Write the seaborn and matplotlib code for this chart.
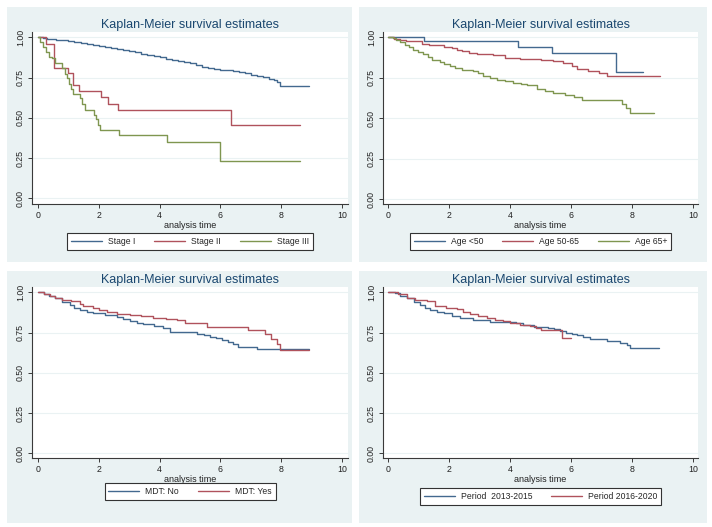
import matplotlib
matplotlib.use("Agg")
import matplotlib.pyplot as plt
import seaborn as sns
import pandas as pd
from matplotlib.patches import Rectangle

sns.set_theme(style="white")
plt.rcParams["font.family"] = ["Liberation Sans", "DejaVu Sans"]

# ---------------- data ----------------
title = "Kaplan-Meier survival estimates"
xlabel = "analysis time"
x_ticks = [0, 2, 4, 6, 8, 10]
y_ticks = [0.0, 0.25, 0.5, 0.75, 1.0]
y_tick_labels = ["0.00", "0.25", "0.50", "0.75", "1.00"]

# Panel 1: stage
stage1_t = [0, 0.15, 0.3, 0.45, 0.6, 0.8, 1.0, 1.2, 1.4, 1.6, 1.8, 2.0, 2.2, 2.4, 2.6,
            2.8, 3.0, 3.2, 3.4, 3.6, 3.8, 4.0, 4.2, 4.4, 4.6, 4.8, 5.0, 5.2, 5.4, 5.6,
            5.8, 6.0, 6.2, 6.4, 6.6, 6.8, 7.0, 7.2, 7.4, 7.6, 7.75, 7.85, 7.95, 8.9]
stage1_s = [1.0, 0.996, 0.992, 0.988, 0.984, 0.981, 0.977, 0.971, 0.965, 0.959, 0.952,
            0.945, 0.939, 0.933, 0.926, 0.92, 0.913, 0.906, 0.899, 0.891, 0.884, 0.876,
            0.868, 0.861, 0.854, 0.847, 0.84, 0.828, 0.816, 0.811, 0.806, 0.8, 0.794,
            0.789, 0.784, 0.777, 0.768, 0.762, 0.754, 0.744, 0.732, 0.72, 0.70, 0.70]
stage2_t = [0, 0.26, 0.54, 1.0, 1.16, 1.36, 2.07, 2.31, 2.62, 6.36, 8.62]
stage2_s = [1.0, 0.958, 0.812, 0.776, 0.704, 0.666, 0.627, 0.588, 0.551, 0.458, 0.458]
stage3_t = [0, 0.08, 0.16, 0.26, 0.36, 0.45, 0.55, 0.8, 0.88, 0.95, 1.02, 1.08, 1.15,
            1.38, 1.45, 1.55, 1.83, 1.9, 1.97, 2.05, 2.68, 4.23, 5.99, 8.62]
stage3_s = [1.0, 0.97, 0.94, 0.91, 0.88, 0.87, 0.84, 0.81, 0.775, 0.745, 0.71, 0.68, 0.65,
            0.62, 0.585, 0.55, 0.52, 0.49, 0.455, 0.424, 0.393, 0.352, 0.234, 0.234]

# Panel 2: age
age1_t = [0, 1.17, 4.27, 5.37, 7.48, 8.37]
age1_s = [1.0, 0.979, 0.942, 0.901, 0.787, 0.787]
age2_t = [0, 0.2, 0.39, 0.6, 0.83, 1.1, 1.35, 1.6, 1.85, 2.09, 2.25, 2.41, 2.65, 2.91,
          3.45, 3.84, 4.33, 5.0, 5.42, 5.75, 6.02, 6.19, 6.57, 6.93, 7.17, 8.92]
age2_s = [1.0, 0.992, 0.985, 0.98, 0.975, 0.958, 0.954, 0.95, 0.942, 0.934, 0.924, 0.913,
          0.905, 0.897, 0.889, 0.872, 0.866, 0.862, 0.851, 0.841, 0.82, 0.806, 0.793,
          0.779, 0.759, 0.759]
age3_t = [0, 0.15, 0.27, 0.4, 0.56, 0.7, 0.83, 1.0, 1.16, 1.3, 1.43, 1.7, 1.85, 2.03,
          2.2, 2.41, 2.79, 2.95, 3.13, 3.35, 3.57, 3.85, 4.11, 4.35, 4.55, 4.87, 5.15,
          5.42, 5.8, 6.1, 6.35, 7.66, 7.8, 7.93, 8.73]
age3_s = [1.0, 0.993, 0.985, 0.97, 0.954, 0.938, 0.923, 0.91, 0.897, 0.88, 0.862, 0.845,
          0.832, 0.82, 0.81, 0.80, 0.79, 0.777, 0.763, 0.75, 0.738, 0.728, 0.717, 0.71,
          0.703, 0.682, 0.67, 0.655, 0.641, 0.63, 0.612, 0.587, 0.563, 0.532, 0.532]

# Panel 3: MDT
mdt_no_t = [0, 0.2, 0.35, 0.56, 0.8, 1.05, 1.2, 1.38, 1.6, 1.82, 2.2, 2.59, 2.8, 3.03,
            3.25, 3.47, 3.8, 4.12, 4.34, 5.0, 5.22, 5.45, 5.66, 5.85, 6.04, 6.25, 6.42,
            6.58, 7.19, 8.9]
mdt_no_s = [1.0, 0.99, 0.98, 0.962, 0.942, 0.921, 0.905, 0.89, 0.88, 0.869, 0.858, 0.849,
            0.835, 0.822, 0.81, 0.801, 0.79, 0.78, 0.755, 0.751, 0.742, 0.733, 0.724,
            0.714, 0.704, 0.69, 0.677, 0.662, 0.648, 0.648]
mdt_yes_t = [0, 0.2, 0.4, 0.56, 0.8, 1.1, 1.38, 1.49, 1.8, 2.0, 2.26, 2.6, 3.03, 3.4,
             3.79, 4.2, 4.56, 4.84, 5.55, 6.92, 7.47, 7.68, 7.86, 7.95, 8.9]
mdt_yes_s = [1.0, 0.99, 0.978, 0.966, 0.955, 0.945, 0.93, 0.917, 0.905, 0.893, 0.88,
             0.868, 0.859, 0.85, 0.842, 0.835, 0.828, 0.807, 0.783, 0.766, 0.739, 0.71,
             0.677, 0.642, 0.642]

# Panel 4: period
per1_t = [0, 0.23, 0.4, 0.61, 0.85, 1.05, 1.2, 1.38, 1.6, 1.82, 2.1, 2.36, 2.8, 3.34,
          3.9, 4.2, 4.44, 4.8, 5.26, 5.45, 5.64, 5.85, 6.02, 6.2, 6.4, 6.62, 7.17, 7.6,
          7.84, 7.93, 8.9]
per1_s = [1.0, 0.995, 0.98, 0.962, 0.94, 0.921, 0.905, 0.89, 0.88, 0.869, 0.852, 0.838,
          0.828, 0.818, 0.815, 0.808, 0.80, 0.782, 0.776, 0.769, 0.762, 0.75, 0.741,
          0.732, 0.724, 0.71, 0.698, 0.684, 0.67, 0.653, 0.653]
per2_t = [0, 0.33, 0.61, 0.9, 1.27, 1.54, 1.9, 2.25, 2.45, 2.69, 2.95, 3.23, 3.5, 3.78,
          4.0, 4.33, 4.66, 4.85, 5.0, 5.7, 5.99]
per2_s = [1.0, 0.99, 0.962, 0.955, 0.945, 0.917, 0.905, 0.894, 0.878, 0.863, 0.85, 0.838,
          0.83, 0.822, 0.81, 0.80, 0.79, 0.776, 0.766, 0.718, 0.718]

panel_series = [
    [("Stage I", stage1_t, stage1_s), ("Stage II", stage2_t, stage2_s),
     ("Stage III", stage3_t, stage3_s)],
    [("Age <50", age1_t, age1_s), ("Age 50-65", age2_t, age2_s),
     ("Age 65+", age3_t, age3_s)],
    [("MDT: No", mdt_no_t, mdt_no_s), ("MDT: Yes", mdt_yes_t, mdt_yes_s)],
    [("Period  2013-2015", per1_t, per1_s), ("Period 2016-2020", per2_t, per2_s)],
]

# ---------------- styling / layout ----------------
W, H = 712, 527
BG = "#EAF2F3"
LINE_COLORS = ["#43698F", "#B0525C", "#7F9650"]
AX_COLOR = "#3a3a3a"

layout = [
    dict(bg=(7, 7, 352, 262), ax=(32, 32, 348, 204), x0=38, x10=342, y1=37.3, y0=198.3, leg=233),
    dict(bg=(359, 7, 707, 262), ax=(383, 32, 698, 204), x0=388, x10=693, y1=37.3, y0=199.0, leg=233),
    dict(bg=(7, 271, 352, 523), ax=(32, 287, 348, 458), x0=38, x10=342, y1=292.3, y0=453.3, leg=483),
    dict(bg=(359, 271, 707, 523), ax=(383, 287, 698, 458), x0=388, x10=693, y1=292.3, y0=453.3, leg=488),
]

fig = plt.figure(figsize=(W / 100, H / 100), dpi=100)
fig.patch.set_facecolor("white")

for lay, series in zip(layout, panel_series):
    l, t, r, b = lay["bg"]
    rect = Rectangle((l / W, 1 - b / H), (r - l) / W, (b - t) / H,
                     transform=fig.transFigure, facecolor=BG, edgecolor="none")
    rect.set_zorder(-10)
    fig.add_artist(rect)

    al, at, ar, ab = lay["ax"]
    ax = fig.add_axes([al / W, 1 - ab / H, (ar - al) / W, (ab - at) / H])
    ax.set_zorder(1)
    ax.set_facecolor("white")

    rows = []
    for name, ts, ss in series:
        for tv, sv in zip(ts, ss):
            rows.append({"t": tv, "s": sv, "group": name})
    df = pd.DataFrame(rows)
    names = [n for n, _, _ in series]
    sns.lineplot(data=df, x="t", y="s", hue="group", hue_order=names,
                 palette=LINE_COLORS[:len(names)], drawstyle="steps-post",
                 estimator=None, sort=True, linewidth=1.0, ax=ax)

    pxu = (lay["x10"] - lay["x0"]) / 10.0
    pyu = lay["y0"] - lay["y1"]
    ax.set_xlim((al - lay["x0"]) / pxu, (ar - lay["x0"]) / pxu)
    ax.set_ylim((lay["y0"] - ab) / pyu, (lay["y0"] - at) / pyu)

    ax.set_xticks(x_ticks)
    ax.set_xticklabels([str(v) for v in x_ticks])
    ax.set_yticks(y_ticks)
    ax.set_yticklabels(y_tick_labels)
    plt.setp(ax.get_yticklabels(), rotation=90, va="center", ha="right")

    ax.grid(False)
    ax.yaxis.grid(True, color=BG, linewidth=0.8)
    ax.set_axisbelow(True)
    for side in ["top", "right"]:
        ax.spines[side].set_visible(False)
    for side in ["left", "bottom"]:
        ax.spines[side].set_visible(True)
        ax.spines[side].set_color(AX_COLOR)
        ax.spines[side].set_linewidth(0.8)
    ax.tick_params(axis="both", which="major", bottom=True, left=True, direction="out",
                   length=3, width=0.7, color=AX_COLOR, labelsize=6.3,
                   labelcolor="#222222", pad=2)

    ax.set_title(title, fontsize=9, color="#1A476F", pad=3)
    ax.set_xlabel(xlabel, fontsize=6.5, color="#222222", labelpad=1)
    ax.set_ylabel("")

    old = ax.get_legend()
    handles = old.legend_handles
    labels = [tx.get_text() for tx in old.get_texts()]
    old.remove()
    ax_h = ab - at
    leg = ax.legend(handles, labels, loc="upper center",
                    bbox_to_anchor=(0.5, -(lay["leg"] - ab) / ax_h),
                    ncol=len(labels), fontsize=6.2, frameon=True, fancybox=False,
                    edgecolor="#333333", facecolor="white", framealpha=1,
                    handlelength=3.6, handletextpad=0.7, columnspacing=2.2,
                    borderpad=0.45, borderaxespad=0)
    leg.get_frame().set_linewidth(0.8)
    for h in leg.legend_handles:
        h.set_linewidth(1.0)

fig.savefig("out.png", dpi=100, facecolor="white")
